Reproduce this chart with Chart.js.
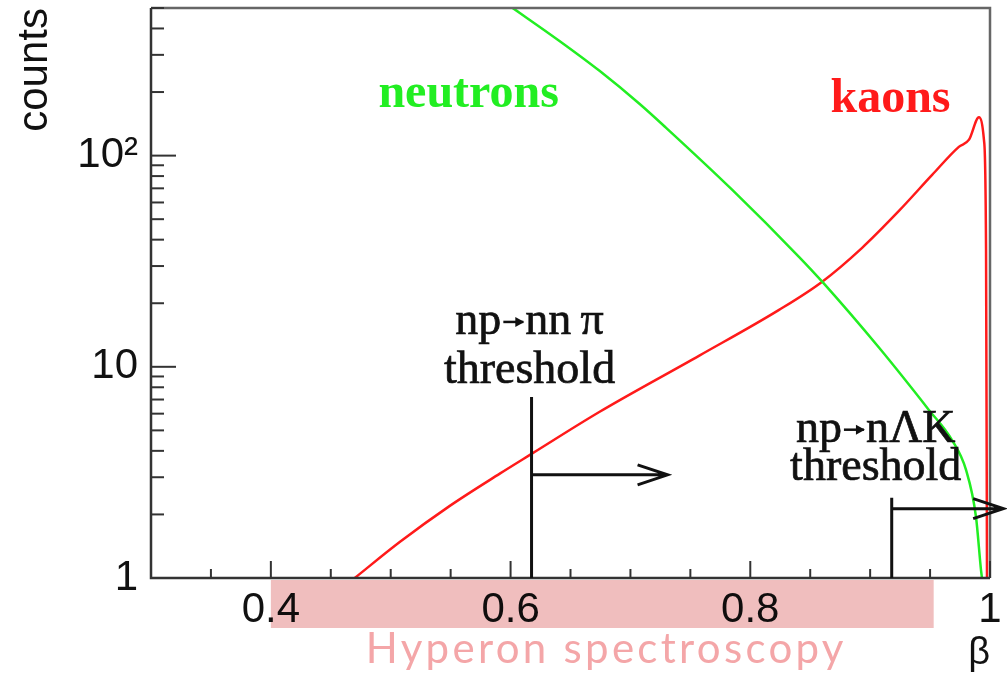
<!DOCTYPE html>
<html>
<head>
<meta charset="utf-8">
<script src="https://cdn.jsdelivr.net/npm/chart.js@4.4.1/dist/chart.umd.min.js"></script>
<style>
  html, body { margin: 0; padding: 0; background: #fff; }
  #wrap { width: 1007px; height: 685px; }
</style>
</head>
<body>
<div id="wrap"><canvas id="chartBeta" width="1007" height="685"></canvas></div>
<script>
// neutrons (green)
var betaNeutrons = [0.600, 0.6408, 0.6742, 0.7075, 0.730, 0.785, 0.8408, 0.860, 0.9075, 0.949, 0.9683, 0.980, 0.9883, 0.9925, 0.9933];
var countsNeutrons = [508, 349, 252, 176, 135, 68.8, 33.1, 25.3, 12.3, 6.25, 4.5, 3.25, 1.95, 1.09, 1.0];

// kaons (red)
var betaKaons = [0.47, 0.5075, 0.549, 0.591, 0.6175, 0.674, 0.7575, 0.824, 0.860, 0.8933, 0.924, 0.9517, 0.974, 0.9825, 0.9908, 0.995, 0.9967, 0.9975];
var countsKaons = [1.0, 1.48, 2.19, 3.12, 3.87, 6.11, 11.3, 18.6, 25.3, 36.6, 54.7, 81.0, 110, 119, 152, 118, 36, 1.0];

// axes
var xTicks = [0.4, 0.6, 0.8, 1.0];
var xTickLabels = ['0.4', '0.6', '0.8', '1'];
var yTicks = [1, 10, 100];
var yTickLabels = ['1', '10', '10\u00b2'];

// thresholds
var thresholdBeta = [0.6175, 0.918];
var thresholdTop = [7.2, 2.4];
var arrowLevel = [3.08, 2.13];
var arrowEnd = [0.731, 1.011];
var thresholdText = [['np', 'nn\u2009\u03c0', 'threshold'], ['np', 'n\u039bK', 'threshold']];

// hyperon band
var bandBeta = [0.4, 0.953];

function toPoints(xs, ys) {
    var pts = [];
    for (var i = 0; i < xs.length; i++) {
        pts.push({x: xs[i], y: ys[i]});
    }
    return pts;
}

// "np -> xx" with a small arrow, centred on cx
function drawReaction(ctx, left, right, cx, y) {
    var arrowW = 24;
    var w1 = ctx.measureText(left).width;
    var w2 = ctx.measureText(right).width;
    var total = w1 + arrowW + w2;
    var x = cx - total / 2;
    ctx.textAlign = 'left';
    ctx.fillText(left, x, y);
    ctx.strokeText(left, x, y);
    var ay = y - 12;
    var ax0 = x + w1 + 2;
    var ax1 = x + w1 + arrowW - 2;
    ctx.lineWidth = 2.5;
    ctx.beginPath();
    ctx.moveTo(ax0, ay);
    ctx.lineTo(ax1, ay);
    ctx.stroke();
    ctx.beginPath();
    ctx.moveTo(ax1 + 1, ay);
    ctx.lineTo(ax1 - 8, ay - 5);
    ctx.lineTo(ax1 - 8, ay + 5);
    ctx.closePath();
    ctx.fill();
    ctx.lineWidth = 0.7;
    ctx.fillText(right, x + w1 + arrowW, y);
    ctx.strokeText(right, x + w1 + arrowW, y);
}

var extras = {
    id: 'extras',
    afterDatasetsDraw: function(chart) {
        var ctx = chart.ctx;
        var a = chart.chartArea;
        var xs = chart.scales.x;
        var ys = chart.scales.y;
        ctx.save();
        // frame
        ctx.lineWidth = 2.5;
        ctx.strokeStyle = '#666';
        ctx.beginPath();
        ctx.moveTo(a.left, a.top);
        ctx.lineTo(a.right, a.top);
        ctx.lineTo(a.right, a.bottom);
        ctx.stroke();
        ctx.strokeStyle = '#333';
        ctx.beginPath();
        ctx.moveTo(a.left, a.top);
        ctx.lineTo(a.left, a.bottom);
        ctx.lineTo(a.right, a.bottom);
        ctx.stroke();

        // x ticks, every 0.05, long every 0.2
        ctx.lineWidth = 2;
        for (var k = 7; k <= 20; k++) {
            var v = k * 0.05;
            var px = xs.getPixelForValue(v);
            var len = (k % 4 === 0) ? 17 : 9;
            ctx.beginPath();
            ctx.moveTo(px, a.bottom);
            ctx.lineTo(px, a.bottom - len);
            ctx.stroke();
        }
        // y ticks (log)
        for (var d = 1; d <= 100; d *= 10) {
            for (var m = 1; m <= 9; m++) {
                var val = d * m;
                if (val > ys.max) break;
                var py = ys.getPixelForValue(val);
                var l = (m === 1) ? 25 : 13;
                ctx.beginPath();
                ctx.moveTo(a.left, py);
                ctx.lineTo(a.left + l, py);
                ctx.stroke();
            }
        }
        ctx.restore();
    },
    afterDraw: function(chart) {
        var ctx = chart.ctx;
        var a = chart.chartArea;
        var xs = chart.scales.x;
        var ys = chart.scales.y;
        ctx.save();

        // curve labels
        ctx.font = 'bold 48px "Liberation Serif"';
        ctx.textAlign = 'center';
        ctx.textBaseline = 'alphabetic';
        ctx.fillStyle = '#22ee22';
        ctx.fillText('neutrons', xs.getPixelForValue(0.565), ys.getPixelForValue(170));
        ctx.fillStyle = '#ff1a1a';
        ctx.fillText('kaons', xs.getPixelForValue(0.917), ys.getPixelForValue(161));

        // thresholds
        var textDx = [-2, -16];
        var textDy = [[-63, -14], [-56, -18]];
        for (var i = 0; i < thresholdBeta.length; i++) {
            var x0 = xs.getPixelForValue(thresholdBeta[i]);
            var yTop = ys.getPixelForValue(thresholdTop[i]);
            var yArr = ys.getPixelForValue(arrowLevel[i]);
            var x1 = xs.getPixelForValue(arrowEnd[i]);
            ctx.strokeStyle = '#111';
            ctx.lineWidth = 3;
            ctx.beginPath();
            ctx.moveTo(x0, a.bottom);
            ctx.lineTo(x0, yTop);
            ctx.moveTo(x0, yArr);
            ctx.lineTo(x1, yArr);
            ctx.moveTo(x1 - 30, yArr - 10);
            ctx.lineTo(x1, yArr);
            ctx.lineTo(x1 - 30, yArr + 10);
            ctx.stroke();

            ctx.fillStyle = '#111';
            ctx.strokeStyle = '#111';
            ctx.font = '46px "Liberation Serif"';
            ctx.lineWidth = 0.7;
            drawReaction(ctx, thresholdText[i][0], thresholdText[i][1], x0 + textDx[i], yTop + textDy[i][0]);
            ctx.textAlign = 'center';
            ctx.lineWidth = 0.7;
            ctx.fillText(thresholdText[i][2], x0 + textDx[i], yTop + textDy[i][1]);
            ctx.strokeText(thresholdText[i][2], x0 + textDx[i], yTop + textDy[i][1]);
        }

        // hyperon spectroscopy band
        var bx0 = xs.getPixelForValue(bandBeta[0]);
        var bx1 = xs.getPixelForValue(bandBeta[1]);
        ctx.globalCompositeOperation = 'multiply';
        ctx.fillStyle = 'rgb(240,190,190)';
        ctx.fillRect(bx0, a.bottom + 2, bx1 - bx0, 48);
        ctx.globalCompositeOperation = 'source-over';
        ctx.fillStyle = '#f4a6a8';
        ctx.font = '42px Lato';
        ctx.letterSpacing = '3.3px';
        ctx.textAlign = 'center';
        ctx.fillText('Hyperon spectroscopy', (bx0 + bx1) / 2 + 4, 663);
        ctx.letterSpacing = '0px';
        ctx.restore();
    }
};

function noPad(scale) {
    scale.paddingTop = 0;
    scale.paddingBottom = 0;
    scale.paddingLeft = 0;
    scale.paddingRight = 0;
}

var ctx = document.getElementById('chartBeta');
var chartBeta = new Chart(ctx, {
    type: 'line',
    data: {
        datasets: [{
            label: 'neutrons',
            data: toPoints(betaNeutrons, countsNeutrons),
            borderColor: '#22ee22',
            borderWidth: 2.5,
            pointRadius: 0,
            cubicInterpolationMode: 'monotone',
            fill: false
        }, {
            label: 'kaons',
            data: toPoints(betaKaons, countsKaons),
            borderColor: '#ff1a1a',
            borderWidth: 2.5,
            pointRadius: 0,
            cubicInterpolationMode: 'monotone',
            fill: false
        }]
    },
    options: {
        responsive: false,
        animation: false,
        layout: {
            padding: {top: 8, right: 17, left: 0, bottom: 0}
        },
        plugins: {
            legend: {display: false},
            tooltip: {enabled: false}
        },
        scales: {
            x: {
                type: 'linear',
                min: 0.3,
                max: 1.0,
                grid: {display: false, drawTicks: false},
                border: {display: false},
                afterBuildTicks: function(scale) {
                    scale.ticks = xTicks.map(function(v) { return {value: v}; });
                },
                afterFit: function(scale) { scale.height = 107; noPad(scale); },
                ticks: {
                    color: '#111',
                    font: {family: 'Liberation Sans', size: 42},
                    padding: 7,
                    maxRotation: 0,
                    autoSkip: false,
                    callback: function(value) {
                        var i = xTicks.indexOf(value);
                        return i >= 0 ? xTickLabels[i] : '';
                    }
                },
                title: {
                    display: true,
                    text: '\u03b2',
                    align: 'end',
                    color: '#111',
                    font: {family: 'Liberation Sans', size: 38},
                    padding: {top: 0, bottom: 9}
                }
            },
            y: {
                type: 'logarithmic',
                min: 1,
                max: 500,
                grid: {display: false, drawTicks: false},
                border: {display: false},
                afterBuildTicks: function(scale) {
                    scale.ticks = yTicks.map(function(v) { return {value: v}; });
                },
                afterFit: function(scale) { scale.width = 151; noPad(scale); },
                ticks: {
                    color: '#111',
                    font: {family: 'Liberation Sans', size: 42},
                    padding: 13,
                    autoSkip: false,
                    callback: function(value) {
                        var i = yTicks.indexOf(value);
                        return i >= 0 ? yTickLabels[i] : '';
                    }
                },
                title: {
                    display: true,
                    text: 'counts',
                    align: 'end',
                    color: '#111',
                    font: {family: 'Liberation Sans', size: 42},
                    padding: {top: 10, bottom: 0}
                }
            }
        }
    },
    plugins: [extras]
});
</script>
</body>
</html>
